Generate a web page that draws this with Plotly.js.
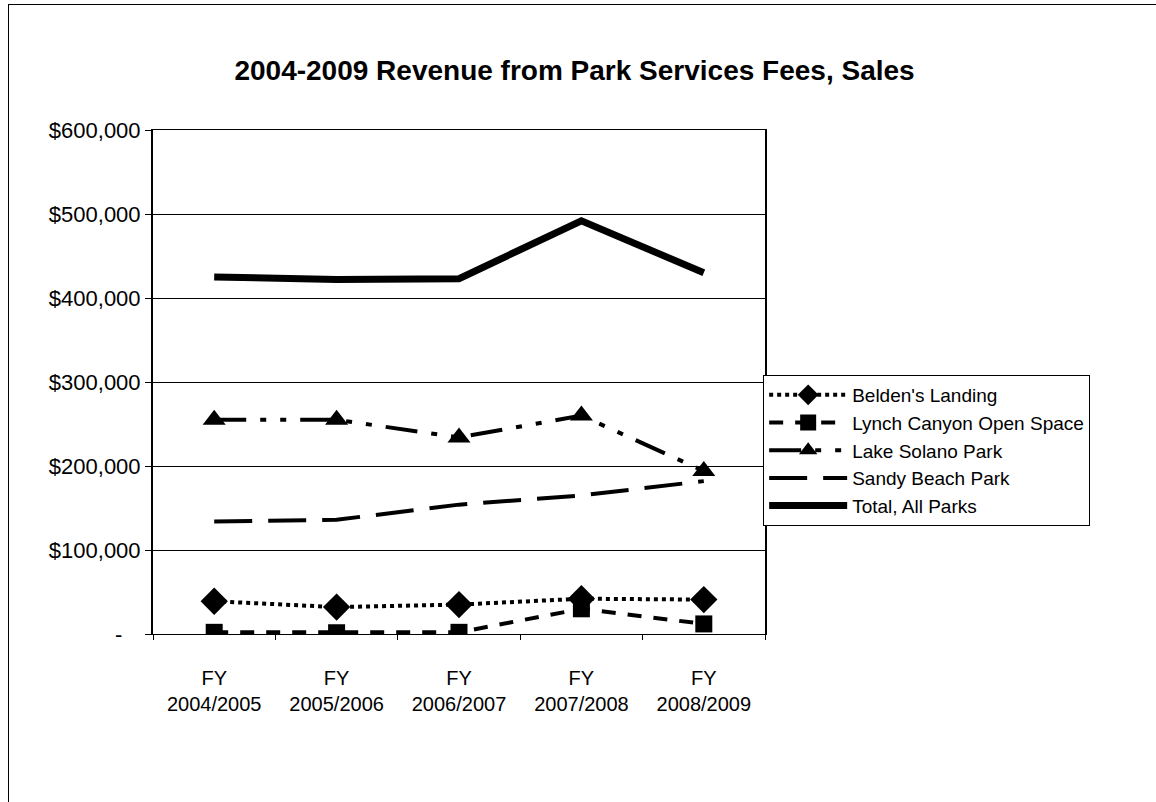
<!DOCTYPE html>
<html>
<head>
<meta charset="utf-8">
<script src="https://cdn.plot.ly/plotly-3.0.1.min.js"></script>
<style>
  html, body { margin: 0; padding: 0; background: #fff; }
  #frame { position: absolute; left: 8px; top: 4px; width: 1160px; height: 820px; border: 1px solid #000; box-sizing: border-box; }
  #chart { position: absolute; left: 0; top: 0; width: 1156px; height: 802px; }
</style>
</head>
<body>
<div id="frame"></div>
<div id="chart"></div>
<script>
const categories = ["FY<br>2004/2005", "FY<br>2005/2006", "FY<br>2006/2007", "FY<br>2007/2008", "FY<br>2008/2009"];

const beldens = [39000, 32000, 35000, 42000, 41000];
const lynch = [2000, 1500, 2000, 30000, 12000];
const lakeSolano = [255000, 255000, 234000, 260000, 194000];
const sandyBeach = [134000, 136000, 154000, 165000, 182000];
const totalAll = [425000, 422000, 423000, 492000, 430000];

const yTickVals = [0, 100000, 200000, 300000, 400000, 500000, 600000];
const yTickText = ["-\u00a0\u00a0\u00a0", "$100,000", "$200,000", "$300,000", "$400,000", "$500,000", "$600,000"];

const traces = [
  { x: categories, y: beldens, name: "Belden's Landing", mode: "lines+markers",
    line: { color: "#000", width: 4, dash: "dot" },
    marker: { symbol: "diamond", size: 21, color: "#000" } },
  { x: categories, y: lynch, name: "Lynch Canyon Open Space", mode: "lines+markers",
    line: { color: "#000", width: 4, dash: "14px,12px" },
    marker: { symbol: "square", size: 17, color: "#000" } },
  { x: categories, y: lakeSolano, name: "Lake Solano Park", mode: "lines+markers",
    line: { color: "#000", width: 4, dash: "32px,14px,6px,14px,6px,14px" },
    marker: { symbol: "triangle-up", size: 20, color: "#000" } },
  { x: categories, y: sandyBeach, name: "Sandy Beach Park", mode: "lines",
    line: { color: "#000", width: 4, dash: "38px,16px" } },
  { x: categories, y: totalAll, name: "Total, All Parks", mode: "lines",
    line: { color: "#000", width: 7 } }
];

const layout = {
  width: 1156, height: 802,
  margin: { l: 153, r: 391, t: 130, b: 168 },
  paper_bgcolor: "rgba(0,0,0,0)", plot_bgcolor: "#fff",
  font: { family: "Liberation Sans, Arial, sans-serif", size: 20, color: "#000" },
  title: { text: "<b>2004-2009 Revenue from Park Services Fees, Sales</b>",
    font: { size: 28, family: "Liberation Sans, Arial, sans-serif", color: "#000" },
    x: 0.497, xref: "container", xanchor: "center", y: 0.913, yref: "container", yanchor: "middle" },
  xaxis: { type: "category", range: [-0.5, 4.5], showline: true, linecolor: "#000", linewidth: 1, mirror: true,
    ticks: "outside", tickson: "boundaries", ticklen: 5, tickcolor: "#000",
    showgrid: false, tickfont: { size: 20 }, ticklabelstandoff: 26, fixedrange: true },
  yaxis: { range: [0, 600000], tickvals: yTickVals, ticktext: yTickText,
    showline: true, linecolor: "#000", linewidth: 2, mirror: true,
    ticks: "outside", ticklen: 6, tickcolor: "#000",
    showgrid: true, gridcolor: "#000", gridwidth: 1, zeroline: false,
    tickfont: { size: 22 }, fixedrange: true },
  legend: { x: 0.997, xanchor: "left", y: 0.514, yanchor: "top",
    bordercolor: "#000", borderwidth: 1, bgcolor: "#fff",
    font: { size: 19 }, tracegroupgap: 0, itemwidth: 78 },
  showlegend: true
};

Plotly.newPlot("chart", traces, layout, { displayModeBar: false, staticPlot: true });
</script>
</body>
</html>
